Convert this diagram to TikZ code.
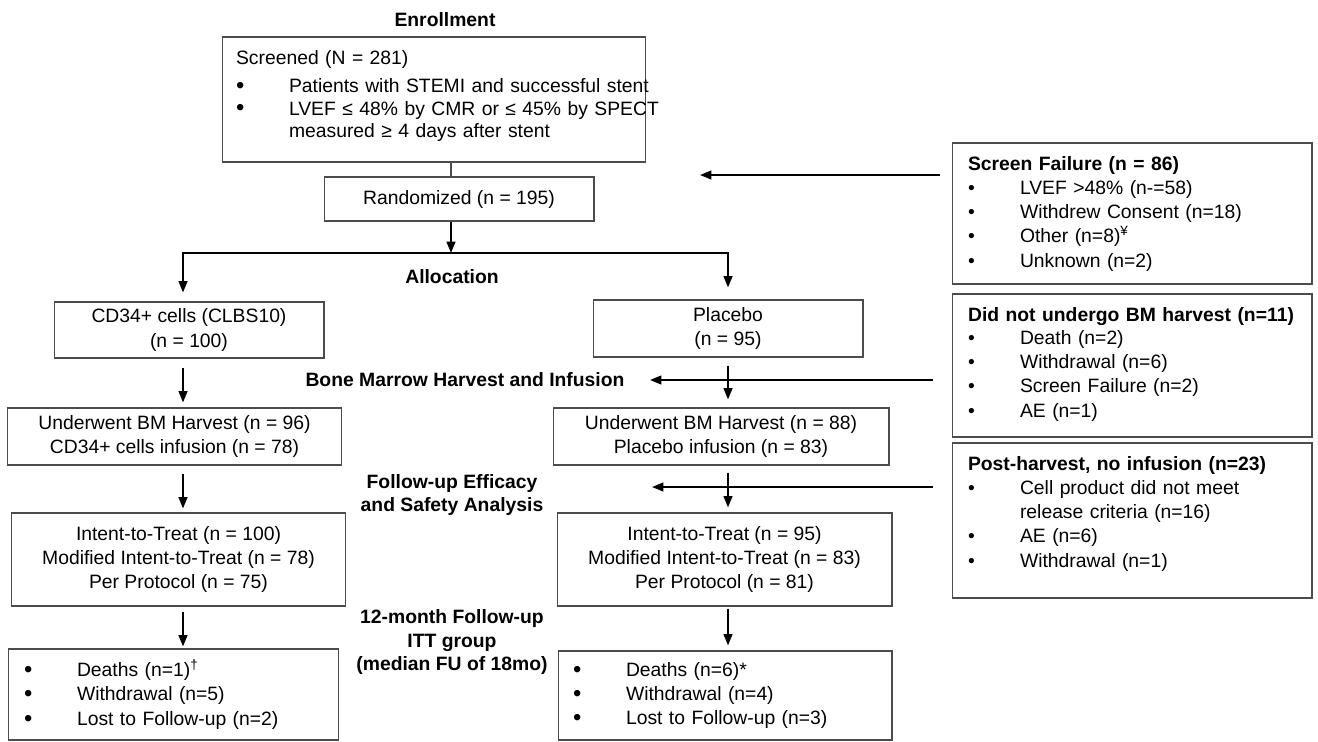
\documentclass[tikz,border=0pt]{standalone}
\usepackage{fontspec}
\setmainfont{Liberation Sans}
\usetikzlibrary{arrows.meta,positioning,calc}

\newcommand{\bigbul}{\makebox[1.06cm][l]{\raisebox{-0.5pt}{\fontsize{13.5}{10}\selectfont •}}}
\newcommand{\smbul}{\makebox[1.04cm][l]{•}}

\begin{document}
\begin{tikzpicture}[x=0.02cm, y=-0.02cm,
    box/.style={rectangle, draw=black!70, line width=0.6pt, inner sep=0pt,
                align=center, font=\fontsize{11}{13.8}\selectfont},
    listbox/.style={box, align=left},
    head/.style={font=\fontsize{11}{13.2}\selectfont\bfseries, align=center},
    link/.style={draw=black!70, line width=0.6pt},
    arrow/.style={-{Triangle[length=6.5pt,width=5pt]}, line width=1.1pt}]

\useasboundingbox (0,0) rectangle (1318,741);

% Enrollment
\node[head] (enroll) at (445,20) {Enrollment};
\node[listbox, minimum width=8.48cm, minimum height=2.5cm, inner xsep=0.28cm,
      text width=7.92cm, font=\fontsize{11}{12.6}\selectfont] (screen) at (434,99.5)
  {Screened (N = 281)\\[3.4pt]
   \bigbul\mbox{Patients with STEMI and successful stent}\\
   \bigbul\mbox{LVEF ≤ 48\% by CMR or ≤ 45\% by SPECT}\\
   \hspace*{1.06cm}measured ≥ 4 days after stent\rule[-0.22cm]{0pt}{0.22cm}};
\node[box, minimum width=5.4cm, minimum height=0.88cm] (rand) at (459,199) {Randomized (n = 195)};

% Allocation
\node[head] (alloc) at (452,277) {Allocation};
\node[box, minimum width=5.4cm, minimum height=1.12cm] (cd34) at (189,330) {CD34+ cells (CLBS10)\\(n = 100)};
\node[box, minimum width=5.4cm, minimum height=1.14cm] (plac) at (728,328.5) {Placebo\\(n = 95)};

% Bone marrow harvest
\node[head] (bmhi) at (465,380) {Bone Marrow Harvest and Infusion};
\node[box, minimum width=6.7cm, minimum height=1.14cm] (harvL) at (174.5,436.5)
  {Underwent BM Harvest (n = 96)\\CD34+ cells infusion (n = 78)};
\node[box, minimum width=6.72cm, minimum height=1.14cm] (harvR) at (721,436.5)
  {Underwent BM Harvest (n = 88)\\Placebo infusion (n = 83)};

% Analysis sets
\node[head] (fuesa) at (452,495) {Follow-up Efficacy\\and Safety Analysis};
\node[box, minimum width=6.7cm, minimum height=1.86cm] (ittL) at (178.5,559.5)
  {Intent-to-Treat (n = 100)\\Modified Intent-to-Treat (n = 78)\\Per Protocol (n = 75)};
\node[box, minimum width=6.7cm, minimum height=1.86cm] (ittR) at (724.5,559.5)
  {Intent-to-Treat (n = 95)\\Modified Intent-to-Treat (n = 83)\\Per Protocol (n = 81)};

% 12-month follow-up
\node[head] (fu12) at (452,642) {12-month Follow-up\\ITT group\\(median FU of 18mo)};
\node[listbox, minimum width=6.62cm, minimum height=1.82cm, inner xsep=0.32cm,
      text width=5.98cm] (deathL) at (173.5,694.5)
  {\bigbul Deaths (n=1)\textsuperscript{†}\\
   \bigbul Withdrawal (n=5)\\
   \bigbul Lost to Follow-up (n=2)};
\node[listbox, minimum width=6.68cm, minimum height=1.78cm, inner xsep=0.3cm,
      text width=6.08cm] (deathR) at (725,695.5)
  {\bigbul Deaths (n=6)*\\
   \bigbul Withdrawal (n=4)\\
   \bigbul Lost to Follow-up (n=3)};

% Exclusions
\node[listbox, minimum width=7.2cm, minimum height=2.82cm, inner xsep=0.32cm,
      text width=6.56cm] (sf) at (1132,213.5)
  {\textbf{Screen Failure (n = 86)}\\
   \smbul LVEF >48\% (n-=58)\\
   \smbul Withdrew Consent (n=18)\\
   \smbul Other (n=8)\textsuperscript{¥}\\
   \smbul Unknown (n=2)};
\node[listbox, minimum width=7.2cm, minimum height=2.86cm, inner xsep=0.32cm,
      text width=6.56cm] (dnu) at (1132,365.5)
  {\textbf{Did not undergo BM harvest (n=11)}\\[-1pt]
   \smbul Death (n=2)\\
   \smbul Withdrawal (n=6)\\
   \smbul Screen Failure (n=2)\\
   \smbul AE (n=1)\rule[-0.12cm]{0pt}{0.12cm}};
\node[listbox, minimum width=7.2cm, minimum height=3.1cm, inner xsep=0.32cm,
      text width=6.56cm] (phni) at (1132,520.5)
  {\textbf{Post-harvest, no infusion (n=23)}\\
   \smbul Cell product did not meet\\
   \hspace*{1.04cm}release criteria (n=16)\\
   \smbul AE (n=6)\\
   \smbul Withdrawal (n=1)\rule[-0.36cm]{0pt}{0.36cm}};

\coordinate (trunk) at (451,0);
\coordinate (split) at (451,253);
\coordinate (lcol) at (183,0);
\coordinate (rcol) at (728,0);
\coordinate (sfin) at (700,175);
\coordinate (bmin) at (650,380);
\coordinate (fuin) at (652,487);

\draw[link] (screen.south -| trunk) -- (rand.north -| trunk);
\draw[arrow] (rand.south -| trunk) -- (split);
\draw[arrow, shorten >=0.18cm] (split) -| (cd34.north -| lcol);
\draw[arrow, shorten >=0.24cm] (split) -| (plac.north -| rcol);

\draw[arrow, shorten <=0.18cm, shorten >=0.1cm] (cd34.south -| lcol) -- (harvL.north -| lcol);
\draw[arrow, shorten <=0.16cm, shorten >=0.08cm] (harvL.south -| lcol) -- (ittL.north -| lcol);
\draw[arrow, shorten <=0.1cm, shorten >=0.04cm] (ittL.south -| lcol) -- (deathL.north -| lcol);

\draw[arrow, shorten <=0.16cm, shorten >=0.16cm] (plac.south -| rcol) -- (harvR.north -| rcol);
\draw[arrow, shorten <=0.14cm, shorten >=0.1cm] (harvR.south -| rcol) -- (ittR.north -| rcol);
\draw[arrow, shorten <=0.04cm, shorten >=0.1cm] (ittR.south -| rcol) -- (deathR.north -| rcol);

\draw[arrow, shorten <=0.24cm] (sf.west |- sfin) -- (sfin);
\draw[arrow, shorten <=0.38cm] (dnu.west |- bmin) -- (bmin);
\draw[arrow, shorten <=0.38cm] (phni.west |- fuin) -- (fuin);
\end{tikzpicture}
\end{document}
